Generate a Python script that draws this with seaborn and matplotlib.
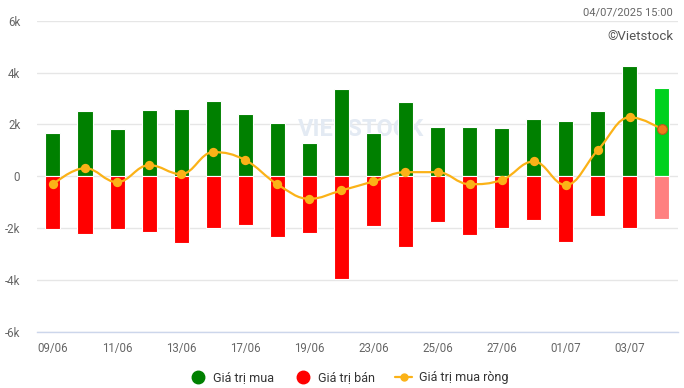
import numpy as np
import matplotlib
matplotlib.use("Agg")
import matplotlib.pyplot as plt
from matplotlib.path import Path
from matplotlib.patches import PathPatch
from matplotlib.lines import Line2D
import seaborn as sns
import pandas as pd

# data (values in million VND)
dates = ["09/06", "10/06", "11/06", "12/06", "13/06", "16/06", "17/06", "18/06",
         "19/06", "20/06", "23/06", "24/06", "25/06", "26/06", "27/06", "30/06",
         "01/07", "02/07", "03/07", "04/07"]
buy = [1690, 2500, 1810, 2540, 2615, 2885, 2420, 2040, 1270, 3385,
       1690, 2850, 1920, 1920, 1850, 2230, 2150, 2500, 4270, 3420]
sell = [-2040, -2230, -2040, -2150, -2580, -2000, -1850, -2350, -2190, -3960,
        -1920, -2730, -1770, -2270, -2000, -1690, -2540, -1540, -2000, -1620]
net = [-300, 320, -220, 435, 90, 935, 630, -300, -860, -540,
       -190, 165, 165, -300, -140, 577, -330, 1010, 2280, 1820]
yticks = [-6000, -4000, -2000, 0, 2000, 4000, 6000]
ytick_labels = ["-6k", "-4k", "-2k", "0", "2k", "4k", "6k"]

GREEN, GREEN_LAST = "#008000", "#00D11E"
RED, RED_LAST = "#FF0000", "#FF8080"
LINE = "#FBB217"

sns.set_style("white")
plt.rcParams["font.family"] = ["Roboto", "DejaVu Sans"]

df = pd.DataFrame({"date": dates, "buy": buy, "sell": sell, "net": net})
df["x"] = np.arange(len(df))

fig = plt.figure(figsize=(6.84, 3.88), dpi=100)
ax = fig.add_axes([0.054, 0.1435, 0.937, 0.8035])

buy_pal = [GREEN] * (len(dates) - 1) + [GREEN_LAST]
sell_pal = [RED] * (len(dates) - 1) + [RED_LAST]
sns.barplot(data=df, x="date", y="buy", hue="date", palette=buy_pal, legend=False,
            saturation=1, width=0.47, edgecolor="white", linewidth=0.8, ax=ax, zorder=2)
sns.barplot(data=df, x="date", y="sell", hue="date", palette=sell_pal, legend=False,
            saturation=1, width=0.47, edgecolor="white", linewidth=0.8, ax=ax, zorder=2)


def spline_path(xs, ys, smoothing=1.5):
    # highcharts-like spline control points
    n = len(xs)
    denom = smoothing + 1
    left = [None] * n
    right = [None] * n
    for i in range(n):
        if i == 0 or i == n - 1:
            left[i] = (xs[i], ys[i])
            right[i] = (xs[i], ys[i])
            continue
        lx = (smoothing * xs[i] + xs[i - 1]) / denom
        ly = (smoothing * ys[i] + ys[i - 1]) / denom
        rx = (smoothing * xs[i] + xs[i + 1]) / denom
        ry = (smoothing * ys[i] + ys[i + 1]) / denom
        corr = (ry - ly) * (rx - xs[i]) / (rx - lx) + ys[i] - ry
        ly += corr
        ry += corr
        if ly > ys[i - 1] and ly > ys[i]:
            ly = max(ys[i - 1], ys[i])
            ry = 2 * ys[i] - ly
        elif ly < ys[i - 1] and ly < ys[i]:
            ly = min(ys[i - 1], ys[i])
            ry = 2 * ys[i] - ly
        if ry > ys[i + 1] and ry > ys[i]:
            ry = max(ys[i + 1], ys[i])
            ly = 2 * ys[i] - ry
        elif ry < ys[i + 1] and ry < ys[i]:
            ry = min(ys[i + 1], ys[i])
            ly = 2 * ys[i] - ry
        left[i] = (lx, ly)
        right[i] = (rx, ry)
    verts = [(xs[0], ys[0])]
    codes = [Path.MOVETO]
    for i in range(1, n):
        verts += [right[i - 1], left[i], (xs[i], ys[i])]
        codes += [Path.CURVE4] * 3
    return Path(verts, codes)


path = spline_path(list(df["x"]), list(df["net"]))
ax.add_patch(PathPatch(path, facecolor="none", edgecolor=LINE, lw=1.6, zorder=3))
sns.scatterplot(data=df.iloc[:-1], x="x", y="net", color=LINE, s=45,
                edgecolor=LINE, linewidth=0, ax=ax, zorder=4)
sns.scatterplot(data=df.iloc[-1:], x="x", y="net", color="#F27A1A", s=50,
                edgecolor="#B8591A", linewidth=0.8, ax=ax, zorder=5)

ax.set_xlim(-0.5, len(dates) - 0.5)
ax.set_ylim(-6000, 6000)
ax.set_yticks(yticks)
ax.set_yticklabels(ytick_labels)
ax.set_xticks(df["x"][::2])
ax.set_xticklabels(dates[::2])
ax.set_xlabel("")
ax.set_ylabel("")
ax.grid(axis="y", color="#E6E6E6", lw=1, zorder=0)
ax.set_axisbelow(True)
for side in ["top", "right", "left"]:
    ax.spines[side].set_visible(False)
ax.spines["bottom"].set_color("#CCD6EB")
ax.spines["bottom"].set_linewidth(1)
ax.tick_params(axis="both", length=0, colors="#666666", labelsize=8.3)
ax.tick_params(axis="x", pad=7)
ax.tick_params(axis="y", pad=12)

# faint watermark
ax.text(9.6, 1800, "VIETSTOCK", ha="center", va="center", fontsize=17,
        color="#E3EAF3", fontweight="bold", zorder=1)

fig.text(0.984, 0.969, "04/07/2025 15:00", ha="right", va="center",
         fontsize=8, color="#666666")
fig.text(0.984, 0.907, "©Vietstock", ha="right", va="center",
         fontsize=9.5, color="#555555")

handles = [
    Line2D([], [], ls="none", marker="o", ms=9, color=GREEN),
    Line2D([], [], ls="none", marker="o", ms=9, color=RED),
    Line2D([], [], color=LINE, lw=1.6, marker="o", ms=5),
]
fig.legend(handles, ["Giá trị mua", "Giá trị bán", "Giá trị mua ròng"],
           loc="center", bbox_to_anchor=(0.51, 0.027), ncol=3, frameon=False,
           fontsize=9, handlelength=1.4, handletextpad=0.5, columnspacing=1.6,
           labelcolor="#333333")

fig.savefig("out.png", dpi=100)
